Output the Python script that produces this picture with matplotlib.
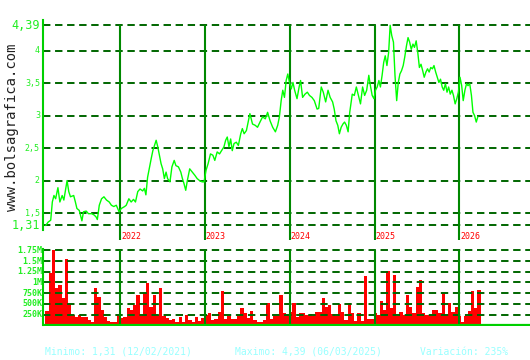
import matplotlib
matplotlib.use("Agg")
import matplotlib.pyplot as plt
import pandas as pd


# price trace, x in fractional years
price_years = [
    2021.121, 2021.148, 2021.179, 2021.198, 2021.217, 2021.237, 2021.264, 2021.287, 2021.314, 2021.334,
    2021.372, 2021.392, 2021.412, 2021.450, 2021.470, 2021.488, 2021.516, 2021.547, 2021.566, 2021.598,
    2021.624, 2021.663, 2021.691, 2021.714, 2021.729, 2021.752, 2021.779, 2021.807, 2021.837, 2021.869,
    2021.895, 2021.923, 2021.953, 2021.985,
    2022.012, 2022.051, 2022.070, 2022.101, 2022.128, 2022.156, 2022.179, 2022.206, 2022.233, 2022.264,
    2022.284, 2022.302, 2022.322, 2022.345, 2022.365, 2022.384, 2022.403, 2022.423, 2022.442, 2022.462,
    2022.481, 2022.500, 2022.520, 2022.540, 2022.558, 2022.586, 2022.609, 2022.636, 2022.656, 2022.686,
    2022.714, 2022.733, 2022.752, 2022.772, 2022.791, 2022.819, 2022.849, 2022.880, 2022.907, 2022.935,
    2022.965, 2022.988,
    2023.012, 2023.036, 2023.064, 2023.092, 2023.115, 2023.143, 2023.171, 2023.195, 2023.223, 2023.243,
    2023.262, 2023.282, 2023.302, 2023.321, 2023.342, 2023.369, 2023.393, 2023.421, 2023.440, 2023.461,
    2023.488, 2023.512, 2023.529, 2023.560, 2023.592, 2023.619, 2023.648, 2023.679, 2023.711, 2023.738,
    2023.767, 2023.798, 2023.830, 2023.857, 2023.877, 2023.898, 2023.917, 2023.937, 2023.957, 2023.976,
    2023.996,
    2024.017, 2024.037, 2024.057, 2024.085, 2024.110, 2024.127, 2024.151, 2024.179, 2024.207, 2024.232,
    2024.261, 2024.289, 2024.322, 2024.341, 2024.371, 2024.395, 2024.423, 2024.451, 2024.476, 2024.505,
    2024.524, 2024.545, 2024.566, 2024.585, 2024.606, 2024.627, 2024.646, 2024.667, 2024.688, 2024.707,
    2024.737, 2024.761, 2024.785, 2024.810, 2024.834, 2024.859, 2024.883, 2024.907, 2024.932, 2024.951,
    2024.972, 2024.993,
    2025.011, 2025.031, 2025.051, 2025.069, 2025.089, 2025.108, 2025.126, 2025.146, 2025.166, 2025.184,
    2025.203, 2025.223, 2025.241, 2025.261, 2025.280, 2025.299, 2025.318, 2025.338, 2025.356, 2025.376,
    2025.395, 2025.414, 2025.433, 2025.453, 2025.471, 2025.491, 2025.510, 2025.529, 2025.548, 2025.568,
    2025.586, 2025.606, 2025.625, 2025.644, 2025.663, 2025.683, 2025.701, 2025.721, 2025.740, 2025.759,
    2025.778, 2025.798, 2025.816, 2025.836, 2025.855, 2025.874, 2025.893, 2025.913, 2025.931, 2025.951,
    2025.970, 2025.989,
    2026.008, 2026.028, 2026.046, 2026.066, 2026.085, 2026.103, 2026.123, 2026.143, 2026.161, 2026.180,
    2026.200, 2026.218,
]
price_values = [
    1.31, 1.36, 1.39, 1.67, 1.77, 1.72, 1.89, 1.67, 1.77, 1.70,
    2.00, 1.83, 1.75, 1.77, 1.67, 1.57, 1.54, 1.38, 1.52, 1.53,
    1.49, 1.49, 1.47, 1.44, 1.40, 1.62, 1.72, 1.75, 1.70, 1.67,
    1.62, 1.60, 1.62, 1.52,
    1.57, 1.60, 1.62, 1.72, 1.67, 1.71, 1.67, 1.83, 1.87, 1.84,
    1.88, 1.78, 2.05, 2.21, 2.34, 2.46, 2.54, 2.62, 2.52, 2.39,
    2.26, 2.18, 2.03, 2.13, 2.03, 1.98, 2.21, 2.31, 2.23, 2.21,
    2.13, 2.03, 1.95, 1.85, 2.00, 2.18, 2.13, 2.08, 2.03, 2.00,
    1.98, 1.98,
    2.16, 2.26, 2.41, 2.39, 2.31, 2.44, 2.41, 2.46, 2.52, 2.62,
    2.67, 2.52, 2.64, 2.46, 2.57, 2.59, 2.54, 2.72, 2.80, 2.72,
    2.77, 2.92, 3.03, 2.87, 2.85, 2.82, 2.90, 2.98, 2.95, 3.05,
    2.92, 2.82, 2.75, 2.85, 2.98, 3.23, 3.39, 3.28, 3.54, 3.64,
    3.51,
    3.41, 3.51, 3.39, 3.26, 3.44, 3.54, 3.28, 3.33, 3.36, 3.31,
    3.28, 3.23, 3.10, 3.11, 3.44, 3.36, 3.21, 3.39, 3.28, 3.21,
    3.10, 2.92, 2.85, 2.72, 2.82, 2.87, 2.90, 2.85, 2.75, 3.05,
    3.33, 3.31, 3.44, 3.31, 3.18, 3.44, 3.31, 3.39, 3.62, 3.46,
    3.31, 3.26,
    3.39, 3.44, 3.54, 3.44, 3.62, 3.82, 3.92, 3.77, 3.97, 4.39,
    4.23, 4.13, 3.62, 3.23, 3.51, 3.64, 3.69, 3.77, 3.90, 4.07,
    4.20, 4.13, 4.02, 4.10, 4.05, 4.15, 3.97, 3.74, 3.79, 3.69,
    3.59, 3.67, 3.72, 3.67, 3.74, 3.72, 3.77, 3.67, 3.59, 3.51,
    3.56, 3.44, 3.39, 3.49, 3.36, 3.44, 3.33, 3.39, 3.31, 3.18,
    3.26, 3.36,
    3.59, 3.46, 3.23, 3.39, 3.49, 3.46, 3.49, 3.31, 3.05, 3.00,
    2.90, 2.98,
]

# volume per 14-day period, in thousands of shares
volume_start = "2021-02-12"
volume_k = [
    335, 1215, 1760, 865, 940, 630, 1550, 500, 240, 200,
    250, 200, 200, 120, 85, 865, 670, 360, 200, 100,
    85, 85, 250, 165, 200, 400, 360, 475, 710, 250,
    750, 980, 420, 710, 240, 865, 220, 165, 125, 150,
    85, 200, 85, 240, 125, 85, 200, 100, 165, 240,
    280, 125, 150, 320, 790, 150, 225, 150, 150, 240,
    415, 280, 165, 335, 125, 85, 85, 125, 515, 150,
    225, 225, 710, 280, 240, 320, 515, 200, 280, 280,
    240, 255, 225, 320, 320, 630, 435, 475, 255, 225,
    490, 320, 125, 530, 280, 100, 280, 100, 1140, 150,
    150, 280, 240, 570, 360, 1270, 400, 1180, 225, 305,
    240, 710, 435, 280, 900, 1060, 280, 240, 240, 360,
    360, 280, 750, 240, 515, 320, 420, 225, 85, 225,
    335, 800, 400, 825,
]

year_marks = [2022, 2023, 2024, 2025, 2026]
price_ticks = [4.39, 4, 3.5, 3, 2.5, 2, 1.5, 1.31]
price_tick_labels = ["4,39", "4", "3,5", "3", "2,5", "2", "1,5", "1,31"]
volume_ticks = [1750e3, 1500e3, 1250e3, 1000e3, 750e3, 500e3, 250e3]
volume_tick_labels = ["1.75M", "1.5M", "1.25M", "1M", "750K", "500K", "250K"]
footer_texts = ["Minimo: 1,31 (12/02/2021)", "Maximo: 4,39 (06/03/2025)", "Variación: 235%"]

MONO = "DejaVu Sans Mono"
LABEL_GREEN = "#22ee22"
AXIS_GREEN = "#00d000"
YEAR_GREEN = "#008800"
GRID_GREEN = "#006600"
GRID_STYLE = (0, (3.8, 2.4))
X_MIN, X_MAX = 2021.0915, 2026.834


def style_axes(ax, ymin, ymax, spine_bottom):
    ax.set_xlim(X_MIN, X_MAX)
    ax.set_ylim(ymin, ymax)
    ax.set_xticks([])
    ax.set_yticks([])
    for side in ["top", "right", "bottom"]:
        ax.spines[side].set_visible(False)
    ax.spines["left"].set_color(AXIS_GREEN)
    ax.spines["left"].set_linewidth(1.5)
    ax.spines["left"].set_bounds(spine_bottom, ymax)
    ax.patch.set_alpha(0)


def main():
    fig = plt.figure(figsize=(5.3, 3.6), dpi=100)
    left = 43.3 / 530
    width = (530 - 43.3) / 530
    ax = fig.add_axes([left, 1 - 240 / 360, width, 220 / 360])
    axv = fig.add_axes([left, 1 - 326 / 360, width, 77 / 360])

    # price panel
    style_axes(ax, 1.085, 4.471, 1.238)
    for v in price_ticks:
        ax.axhline(v, color=GRID_GREEN, lw=1.4, ls=GRID_STYLE, zorder=1)
    ax.vlines(year_marks, 1.085, 4.39, color=YEAR_GREEN, lw=1.5, zorder=2)
    ax.plot(price_years, price_values, color="#00ff00", lw=1.0, zorder=3)
    for yr in year_marks:
        ax.text(yr + 0.01, 1.146, str(yr), color="#ff0000", fontsize=6,
                family=MONO, ha="left", va="center")
    for v, lab in zip(price_ticks, price_tick_labels):
        big = lab in ("4,39", "1,31")
        ax.text(-0.007, v, lab, transform=ax.get_yaxis_transform(), ha="right",
                va="center", color=LABEL_GREEN, fontsize=8.5 if big else 6, family=MONO)

    # volume panel
    style_axes(axv, -0.016e6, 1.78e6, 0)
    dates = pd.date_range(volume_start, periods=len(volume_k), freq="14D")
    vol_x = dates.year + (dates.dayofyear - 1) / 365.25
    vol = [v * 1000 for v in volume_k]
    axv.bar(vol_x, vol, width=14 / 365.25, align="edge", color="#ff0000", lw=0, zorder=1)
    for v in volume_ticks:
        axv.axhline(v, color=GRID_GREEN, lw=1.4, ls=GRID_STYLE, zorder=2)
    axv.vlines(year_marks, 0, 1.75e6, color=YEAR_GREEN, lw=1.5, zorder=3)
    axv.axhline(0, color=AXIS_GREEN, lw=1.6, zorder=4)
    for v, lab in zip(volume_ticks, volume_tick_labels):
        axv.text(-0.002, v, lab, transform=axv.get_yaxis_transform(), ha="right",
                 va="center", color=LABEL_GREEN, fontsize=6, fontweight="bold", family=MONO)

    fig.text(12 / 530, 1 - 127 / 360, "www.bolsagrafica.com", rotation=90, ha="center",
             va="center", fontsize=10, family=MONO, color="#222222")
    for x_px, txt in zip([45, 235, 420], footer_texts):
        fig.text(x_px / 530, 1 - 352 / 360, txt, ha="left", va="center",
                 fontsize=7, family=MONO, color="#99ffff")

    fig.savefig("out.png", dpi=100)
    plt.close(fig)


if __name__ == "__main__":
    main()
